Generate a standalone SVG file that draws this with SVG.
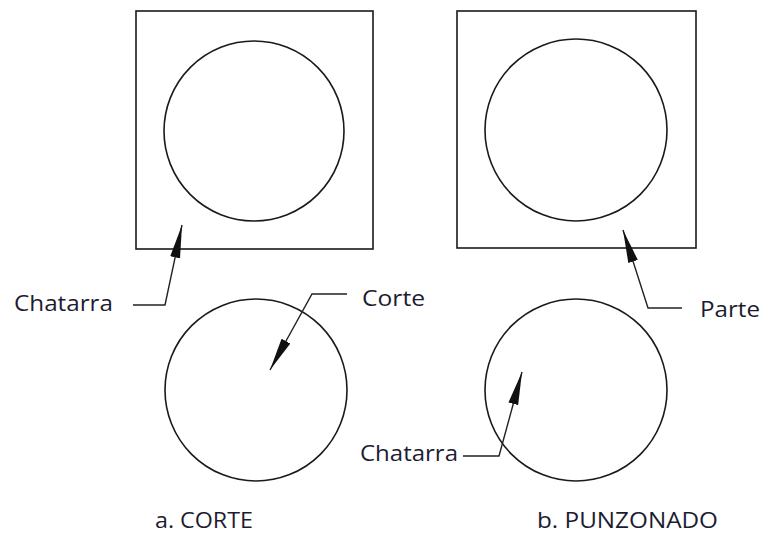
<svg xmlns="http://www.w3.org/2000/svg" width="763" height="544" viewBox="0 0 763 544">
  <style>
    .shape { fill: none; stroke: #1a1a1a; stroke-width: 1.6; }
    .lead { fill: none; stroke: #222; stroke-width: 1.4; }
    .lbl { font-family: "Open Sans", "Liberation Sans", sans-serif; font-size: 22px; fill: #1c1c30; }
  </style>
  <defs>
    <marker id="arrow" markerUnits="userSpaceOnUse" markerWidth="34" markerHeight="12" viewBox="0 0 34 12" refX="33" refY="6" orient="auto">
      <path d="M0,1 L33,6 L0,11 Z" fill="#111"/>
    </marker>
  </defs>
  <rect width="763" height="544" fill="#fff"/>

  <!-- a. CORTE: sheet with hole and blanked disc -->
  <g id="corte-sheet">
    <rect class="shape" x="136" y="11" width="237" height="238"/>
    <circle class="shape" cx="254" cy="131" r="90"/>
  </g>
  <g id="corte-disc">
    <circle class="shape" cx="256" cy="390" r="91"/>
  </g>

  <!-- b. PUNZONADO: sheet with hole and punched slug -->
  <g id="punz-sheet">
    <rect class="shape" x="457" y="11" width="239" height="237"/>
    <circle class="shape" cx="576" cy="130" r="91"/>
  </g>
  <g id="punz-slug">
    <circle class="shape" cx="576" cy="390" r="91"/>
  </g>

  <!-- leaders -->
  <g id="connectors">
    <polyline class="lead" points="133,305 165,305 182,225" marker-end="url(#arrow)"/>
    <polyline class="lead" points="347,294 312,294 270,370" marker-end="url(#arrow)"/>
    <polyline class="lead" points="682,308 648,308 623,230" marker-end="url(#arrow)"/>
    <polyline class="lead" points="463,456 499,456 522,372" marker-end="url(#arrow)"/>
  </g>

  <!-- labels -->
  <g id="labels">
    <text class="lbl" x="14" y="311" textLength="99" lengthAdjust="spacingAndGlyphs">Chatarra</text>
    <text class="lbl" x="362" y="306" textLength="63" lengthAdjust="spacingAndGlyphs">Corte</text>
    <text class="lbl" x="700" y="317" textLength="60" lengthAdjust="spacingAndGlyphs">Parte</text>
    <text class="lbl" x="360" y="461" textLength="98" lengthAdjust="spacingAndGlyphs">Chatarra</text>
    <text class="lbl" x="155" y="528" textLength="98" lengthAdjust="spacingAndGlyphs">a. CORTE</text>
    <text class="lbl" x="537" y="528" textLength="181" lengthAdjust="spacingAndGlyphs">b. PUNZONADO</text>
  </g>
</svg>
